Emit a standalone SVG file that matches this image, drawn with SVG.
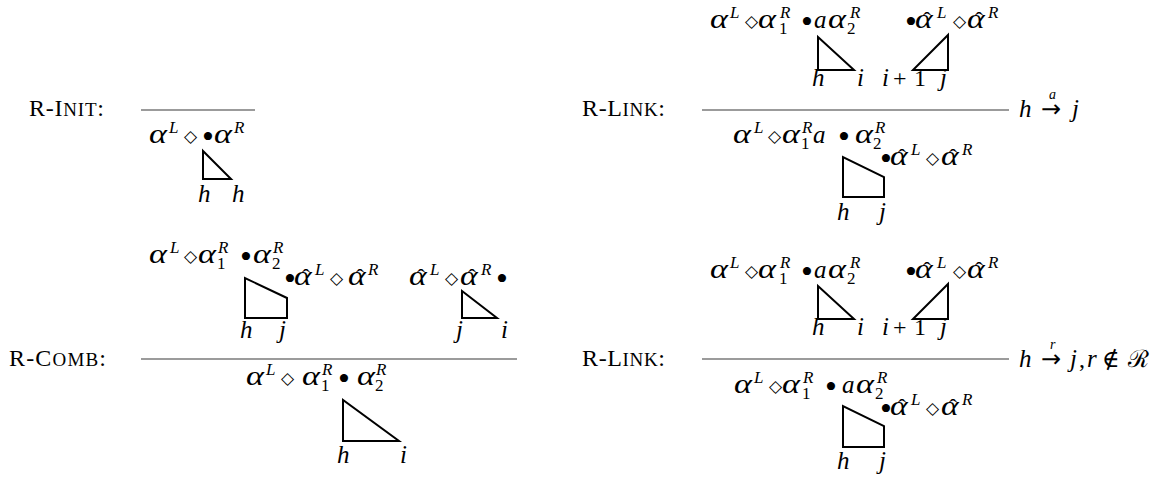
<svg xmlns="http://www.w3.org/2000/svg" width="1161" height="479" viewBox="0 0 1161 479">
<style>
text { fill: #000; }
.g { font-family: "Liberation Serif", serif; font-style: italic; font-size: 27px; }
.hat { font-family: "Liberation Serif", serif; font-style: normal; font-size: 19px; }
.v { font-family: "Liberation Serif", serif; font-style: italic; font-size: 25px; }
.s { font-family: "Liberation Serif", serif; font-style: italic; font-size: 17px; }
.t { font-family: "Liberation Serif", serif; font-style: italic; font-size: 14px; }
.n { font-family: "Liberation Serif", serif; font-size: 17px; }
.o { font-family: "DejaVu Sans", sans-serif; font-size: 17px; }
.b { font-family: "Liberation Serif", serif; font-size: 34px; }
.r { font-family: "Liberation Serif", "DejaVu Serif", serif; font-size: 24px; }
.ar { font-family: "DejaVu Sans", sans-serif; font-size: 24px; }
.lb { font-family: "Liberation Serif", serif; font-size: 24px; }
.rule { stroke: #7a7a7a; stroke-width: 1.6; fill: none; }
.tri { fill: none; stroke: #000; stroke-width: 2; stroke-linejoin: miter; }
</style>

<g id="r-init">
  <text class="lb" x="29" y="116" textLength="75" lengthAdjust="spacing">R-I<tspan font-size="19">NIT</tspan>:</text>
  <line class="rule" x1="141" y1="110" x2="255" y2="110"/>
  <text class="g" x="149" y="143" textLength="18" lengthAdjust="spacingAndGlyphs">α</text><text class="s" x="169" y="133">L</text>
  <text class="o" x="184" y="142">◇</text>
  <text class="b" x="202" y="148">•</text>
  <text class="g" x="214" y="143" textLength="18" lengthAdjust="spacingAndGlyphs">α</text><text class="s" x="234" y="133">R</text>
  <path class="tri" d="M203,151 L203,179 L231,179 Z"/>
  <text class="v" x="198" y="202">h</text>
  <text class="v" x="232" y="202">h</text>
</g>

<g id="r-comb">
  <text class="lb" x="9" y="366" textLength="97" lengthAdjust="spacing">R-C<tspan font-size="19">OMB</tspan>:</text>
  <g id="comb-premise-1">
    <text class="g" x="149" y="263" textLength="18" lengthAdjust="spacingAndGlyphs">α</text><text class="s" x="170" y="253">L</text>
    <text class="o" x="184" y="262">◇</text>
    <text class="g" x="198" y="263" textLength="18" lengthAdjust="spacingAndGlyphs">α</text><text class="s" x="218" y="253">R</text><text class="n" x="217" y="269">1</text>
    <text class="b" x="240" y="268">•</text>
    <text class="g" x="253" y="263" textLength="18" lengthAdjust="spacingAndGlyphs">α</text><text class="s" x="273" y="253">R</text><text class="n" x="272" y="269">2</text>
    <path class="tri" d="M245,278 L245,318 L287,318 L287,298 Z"/>
    <text class="b" x="284" y="290">•</text>
    <text class="g" transform="translate(294,285) scale(1.25,1)">α<tspan class="hat" x="6.4" y="-3">ˆ</tspan></text><text class="s" x="315" y="275">L</text>
    <text class="o" x="330" y="284">◇</text>
    <text class="g" transform="translate(348,285) scale(1.25,1)">α<tspan class="hat" x="6.4" y="-3">ˆ</tspan></text><text class="s" x="368" y="275">R</text>
    <text class="v" x="240" y="338">h</text>
    <text class="v" x="279" y="338">j</text>
  </g>
  <g id="comb-premise-2">
    <text class="g" transform="translate(409,285) scale(1.25,1)">α<tspan class="hat" x="6.4" y="-3">ˆ</tspan></text><text class="s" x="430" y="275">L</text>
    <text class="o" x="445" y="284">◇</text>
    <text class="g" transform="translate(460,285) scale(1.25,1)">α<tspan class="hat" x="6.4" y="-3">ˆ</tspan></text><text class="s" x="481" y="275">R</text>
    <text class="b" x="496" y="290">•</text>
    <path class="tri" d="M462,291 L462,318 L497,318 Z"/>
    <text class="v" x="456" y="338">j</text>
    <text class="v" x="501" y="338">i</text>
  </g>
  <line class="rule" x1="141" y1="359" x2="517" y2="359"/>
  <g id="comb-conclusion">
    <text class="g" x="246" y="385" textLength="18" lengthAdjust="spacingAndGlyphs">α</text><text class="s" x="266" y="375">L</text>
    <text class="o" x="281" y="384">◇</text>
    <text class="g" x="302" y="385" textLength="18" lengthAdjust="spacingAndGlyphs">α</text><text class="s" x="322" y="375">R</text><text class="n" x="321" y="391">1</text>
    <text class="b" x="338" y="390">•</text>
    <text class="g" x="357" y="385" textLength="18" lengthAdjust="spacingAndGlyphs">α</text><text class="s" x="376" y="375">R</text><text class="n" x="375" y="391">2</text>
    <path class="tri" d="M343,400 L343,441 L399,441 Z"/>
    <text class="v" x="337" y="463">h</text>
    <text class="v" x="400" y="463">i</text>
  </g>
</g>

<g id="r-link-1">
  <text class="lb" x="582" y="116" textLength="83" lengthAdjust="spacing">R-L<tspan font-size="19">INK</tspan>:</text>
  <g id="link1-premise-1">
    <text class="g" x="710" y="28" textLength="18" lengthAdjust="spacingAndGlyphs">α</text><text class="s" x="730" y="18">L</text>
    <text class="o" x="745" y="27">◇</text>
    <text class="g" x="758" y="28" textLength="18" lengthAdjust="spacingAndGlyphs">α</text><text class="s" x="780" y="18">R</text><text class="n" x="779" y="34">1</text>
    <text class="b" x="801" y="33">•</text>
    <text class="v" x="814" y="28">a</text>
    <text class="g" x="828" y="28" textLength="18" lengthAdjust="spacingAndGlyphs">α</text><text class="s" x="850" y="18">R</text><text class="n" x="847" y="34">2</text>
    <path class="tri" d="M818,37 L818,70 L854,70 Z"/>
    <text class="v" x="812" y="86">h</text>
    <text class="v" x="857" y="86">i</text>
  </g>
  <g id="link1-premise-2">
    <text class="b" x="905" y="33">•</text>
    <text class="g" transform="translate(915,28) scale(1.25,1)">α<tspan class="hat" x="6.4" y="-3">ˆ</tspan></text><text class="s" x="937" y="18">L</text>
    <text class="o" x="953" y="27">◇</text>
    <text class="g" transform="translate(967,28) scale(1.25,1)">α<tspan class="hat" x="6.4" y="-3">ˆ</tspan></text><text class="s" x="988" y="18">R</text>
    <path class="tri" d="M948,35 L948,70 L913,70 Z"/>
    <text class="v" x="882" y="86">i</text><text class="r" x="893" y="86">+</text><text class="r" x="914" y="86">1</text>
    <text class="v" x="940" y="86">j</text>
  </g>
  <line class="rule" x1="702" y1="110" x2="1009" y2="110"/>
  <g id="link1-side">
    <text class="v" x="1019" y="117">h</text>
    <text class="ar" x="1041" y="117">→<tspan class="t" x="1049" y="99">a</tspan></text>
    <text class="v" x="1072" y="117">j</text>
  </g>
  <g id="link1-conclusion">
    <text class="g" x="733" y="143" textLength="18" lengthAdjust="spacingAndGlyphs">α</text><text class="s" x="754" y="133">L</text>
    <text class="o" x="768" y="142">◇</text>
    <text class="g" x="782" y="143" textLength="18" lengthAdjust="spacingAndGlyphs">α</text><text class="s" x="802" y="133">R</text><text class="n" x="801" y="149">1</text>
    <text class="v" x="813" y="143">a</text>
    <text class="b" x="838" y="148">•</text>
    <text class="g" x="855" y="143" textLength="18" lengthAdjust="spacingAndGlyphs">α</text><text class="s" x="875" y="133">R</text><text class="n" x="873" y="149">2</text>
    <path class="tri" d="M843,157 L843,197 L884,197 L884,177 Z"/>
    <text class="b" x="880" y="170">•</text>
    <text class="g" transform="translate(890,165) scale(1.25,1)">α<tspan class="hat" x="6.4" y="-3">ˆ</tspan></text><text class="s" x="911" y="155">L</text>
    <text class="o" x="926" y="164">◇</text>
    <text class="g" transform="translate(941,165) scale(1.25,1)">α<tspan class="hat" x="6.4" y="-3">ˆ</tspan></text><text class="s" x="962" y="155">R</text>
    <text class="v" x="837" y="220">h</text>
    <text class="v" x="879" y="220">j</text>
  </g>
</g>

<g id="r-link-2">
  <text class="lb" x="582" y="366" textLength="83" lengthAdjust="spacing">R-L<tspan font-size="19">INK</tspan>:</text>
  <g id="link2-premise-1">
    <text class="g" x="710" y="278" textLength="18" lengthAdjust="spacingAndGlyphs">α</text><text class="s" x="730" y="268">L</text>
    <text class="o" x="745" y="277">◇</text>
    <text class="g" x="758" y="278" textLength="18" lengthAdjust="spacingAndGlyphs">α</text><text class="s" x="780" y="268">R</text><text class="n" x="779" y="284">1</text>
    <text class="b" x="801" y="283">•</text>
    <text class="v" x="814" y="278">a</text>
    <text class="g" x="828" y="278" textLength="18" lengthAdjust="spacingAndGlyphs">α</text><text class="s" x="850" y="268">R</text><text class="n" x="847" y="284">2</text>
    <path class="tri" d="M818,286 L818,319 L854,319 Z"/>
    <text class="v" x="812" y="335">h</text>
    <text class="v" x="857" y="335">i</text>
  </g>
  <g id="link2-premise-2">
    <text class="b" x="905" y="283">•</text>
    <text class="g" transform="translate(915,278) scale(1.25,1)">α<tspan class="hat" x="6.4" y="-3">ˆ</tspan></text><text class="s" x="937" y="268">L</text>
    <text class="o" x="953" y="277">◇</text>
    <text class="g" transform="translate(967,278) scale(1.25,1)">α<tspan class="hat" x="6.4" y="-3">ˆ</tspan></text><text class="s" x="988" y="268">R</text>
    <path class="tri" d="M948,284 L948,319 L913,319 Z"/>
    <text class="v" x="882" y="335">i</text><text class="r" x="893" y="335">+</text><text class="r" x="914" y="335">1</text>
    <text class="v" x="940" y="335">j</text>
  </g>
  <line class="rule" x1="702" y1="359" x2="1009" y2="359"/>
  <g id="link2-side">
    <text class="v" x="1019" y="367">h</text>
    <text class="ar" x="1041" y="367">→<tspan class="t" x="1050" y="349">r</tspan></text>
    <text class="v" x="1070" y="367">j</text><text class="r" x="1079" y="367">,</text>
    <text class="v" x="1087" y="367">r</text>
    <text class="r" x="1102" y="367">∉</text>
    <text class="r" x="1128" y="367">ℛ</text>
  </g>
  <g id="link2-conclusion">
    <text class="g" x="734" y="393" textLength="18" lengthAdjust="spacingAndGlyphs">α</text><text class="s" x="754" y="383">L</text>
    <text class="o" x="769" y="392">◇</text>
    <text class="g" x="782" y="393" textLength="18" lengthAdjust="spacingAndGlyphs">α</text><text class="s" x="803" y="383">R</text><text class="n" x="802" y="399">1</text>
    <text class="b" x="825" y="398">•</text>
    <text class="v" x="842" y="393">a</text>
    <text class="g" x="856" y="393" textLength="18" lengthAdjust="spacingAndGlyphs">α</text><text class="s" x="877" y="383">R</text><text class="n" x="875" y="399">2</text>
    <path class="tri" d="M843,406 L843,447 L884,447 L884,426 Z"/>
    <text class="b" x="880" y="420">•</text>
    <text class="g" transform="translate(890,415) scale(1.25,1)">α<tspan class="hat" x="6.4" y="-3">ˆ</tspan></text><text class="s" x="911" y="405">L</text>
    <text class="o" x="926" y="414">◇</text>
    <text class="g" transform="translate(941,415) scale(1.25,1)">α<tspan class="hat" x="6.4" y="-3">ˆ</tspan></text><text class="s" x="962" y="405">R</text>
    <text class="v" x="837" y="469">h</text>
    <text class="v" x="879" y="469">j</text>
  </g>
</g>
</svg>
